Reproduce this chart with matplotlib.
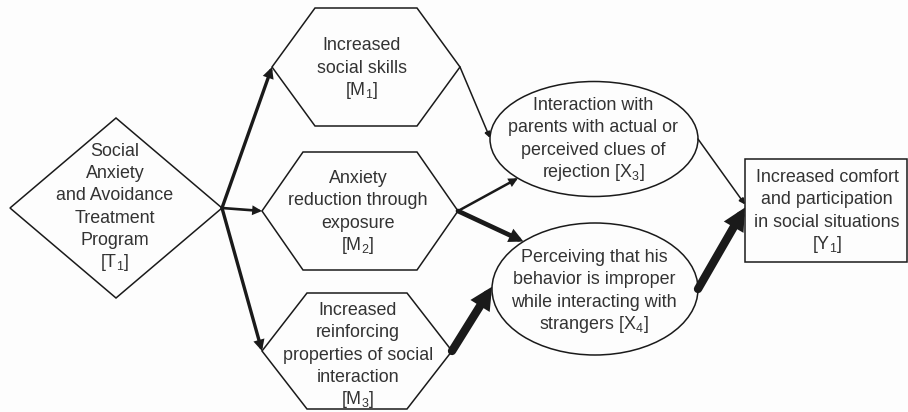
import numpy as np
import matplotlib
matplotlib.use("Agg")
import matplotlib.pyplot as plt
from matplotlib.patches import Polygon, Ellipse, Rectangle, FancyArrowPatch

plt.rcParams['font.family'] = ['Liberation Sans', 'DejaVu Sans']
plt.rcParams['mathtext.fontset'] = 'custom'
plt.rcParams['mathtext.rm'] = 'Liberation Sans'
plt.rcParams['mathtext.it'] = 'Liberation Sans'

# ---- content (diagram "data") ----
node_ids = ["T1", "M1", "M2", "M3", "X3", "X4", "Y1"]
node_labels = {
    "T1": ["Social", "Anxiety", "and Avoidance", "Treatment", "Program", r"[T$_1$]"],
    "M1": ["Increased", "social skills", r"[M$_1$]"],
    "M2": ["Anxiety", "reduction through", "exposure", r"[M$_2$]"],
    "M3": ["Increased", "reinforcing", "properties of social", "interaction", r"[M$_3$]"],
    "X3": ["Interaction with", "parents with actual or", "perceived clues of", r"rejection [X$_3$]"],
    "X4": ["Perceiving that his", "behavior is improper", "while interacting with", r"strangers [X$_4$]"],
    "Y1": ["Increased comfort", "and participation", "in social situations", r"[Y$_1$]"],
}
edge_sources = ["T1", "T1", "T1", "M1", "M2", "M2", "M3", "X3", "X4"]
edge_targets = ["M1", "M2", "M3", "X3", "X3", "X4", "X4", "Y1", "Y1"]
edge_weights = [2.4, 1.9, 2.4, 1.1, 1.8, 3.4, 6.0, 1.1, 6.0]

# ---- layout (pixel coordinates, y downward) ----
shape = {"T1": "diamond", "M1": "hex", "M2": "hex", "M3": "hex",
         "X3": "ellipse", "X4": "ellipse", "Y1": "rect"}
geom = {
    # cx, cy, half-width, half-height, (hex top-edge half-width)
    "T1": (116, 208, 106, 90),
    "M1": (366, 67, 94, 59, 51),
    "M2": (360, 211, 98, 59, 57),
    "M3": (357, 351, 95, 58, 50),
    "X3": (594, 139, 104, 57.5),
    "X4": (595, 289, 103, 66),
    "Y1": (826, 210.5, 81, 51.5),
}
text_center = {"T1": (115, 207), "M1": (362, 68), "M2": (358, 212), "M3": (358, 355),
               "X3": (593, 139), "X4": (594, 291), "Y1": (827, 211)}
edge_start = [("right",), ("right",), ("right",), ("right",), ("right",), ("right",),
              ("right",), ("ell", 0), ("ell", 0)]
edge_end = [("left",), ("left",), ("left",), ("ell", 181), ("ell", 137), ("ell", 226),
            ("ell", 182), ("pt", 0, -6), ("pt", 0, -3)]

W, H = 908, 412
fig = plt.figure(figsize=(W / 100, H / 100), dpi=100)
fig.patch.set_facecolor("#fdfdfd")
ax = fig.add_axes([0, 0, 1, 1])
ax.set_xlim(0, W)
ax.set_ylim(H, 0)
ax.axis("off")

LINE = "#1a1a1a"
TXT = "#333333"

for nid in node_ids:
    g = geom[nid]
    cx, cy, hw, hh = g[:4]
    if shape[nid] == "diamond":
        p = Polygon([(cx - hw, cy), (cx, cy - hh), (cx + hw, cy), (cx, cy + hh)], closed=True,
                    fill=False, ec=LINE, lw=1.1)
    elif shape[nid] == "hex":
        tw = g[4]
        p = Polygon([(cx - hw, cy), (cx - tw, cy - hh), (cx + tw, cy - hh), (cx + hw, cy),
                     (cx + tw, cy + hh), (cx - tw, cy + hh)], closed=True, fill=False, ec=LINE, lw=1.1)
    elif shape[nid] == "ellipse":
        p = Ellipse((cx, cy), 2 * hw, 2 * hh, fill=False, ec=LINE, lw=1.1)
    else:
        p = Rectangle((cx - hw, cy - hh), 2 * hw, 2 * hh, fill=False, ec=LINE, lw=1.1)
    ax.add_patch(p)
    lines = node_labels[nid]
    tx, ty = text_center[nid]
    n = len(lines)
    sp = 22.3
    for i, s in enumerate(lines):
        y = ty + (i - (n - 1) / 2) * sp
        ax.text(tx, y, s, ha="center", va="center", fontsize=12.9, color=TXT)


def anchor(nid, spec):
    g = geom[nid]
    cx, cy, hw, hh = g[:4]
    if spec[0] == "right":
        return (cx + hw, cy)
    if spec[0] == "left":
        return (cx - hw, cy)
    if spec[0] == "ell":
        t = np.deg2rad(spec[1])
        return (cx + hw * np.cos(t), cy + hh * np.sin(t))
    if spec[0] == "pt":
        return (cx - hw + spec[1], cy + spec[2])


for s, t, w, a, b in zip(edge_sources, edge_targets, edge_weights, edge_start, edge_end):
    p0 = anchor(s, a)
    p1 = anchor(t, b)
    ms = 7 + w * 1.6
    arr = FancyArrowPatch(p0, p1, arrowstyle="-|>", mutation_scale=ms, lw=w,
                          color=LINE, shrinkA=0, shrinkB=0, joinstyle="miter")
    ax.add_patch(arr)

fig.savefig("out.png", dpi=100, facecolor=fig.get_facecolor())
